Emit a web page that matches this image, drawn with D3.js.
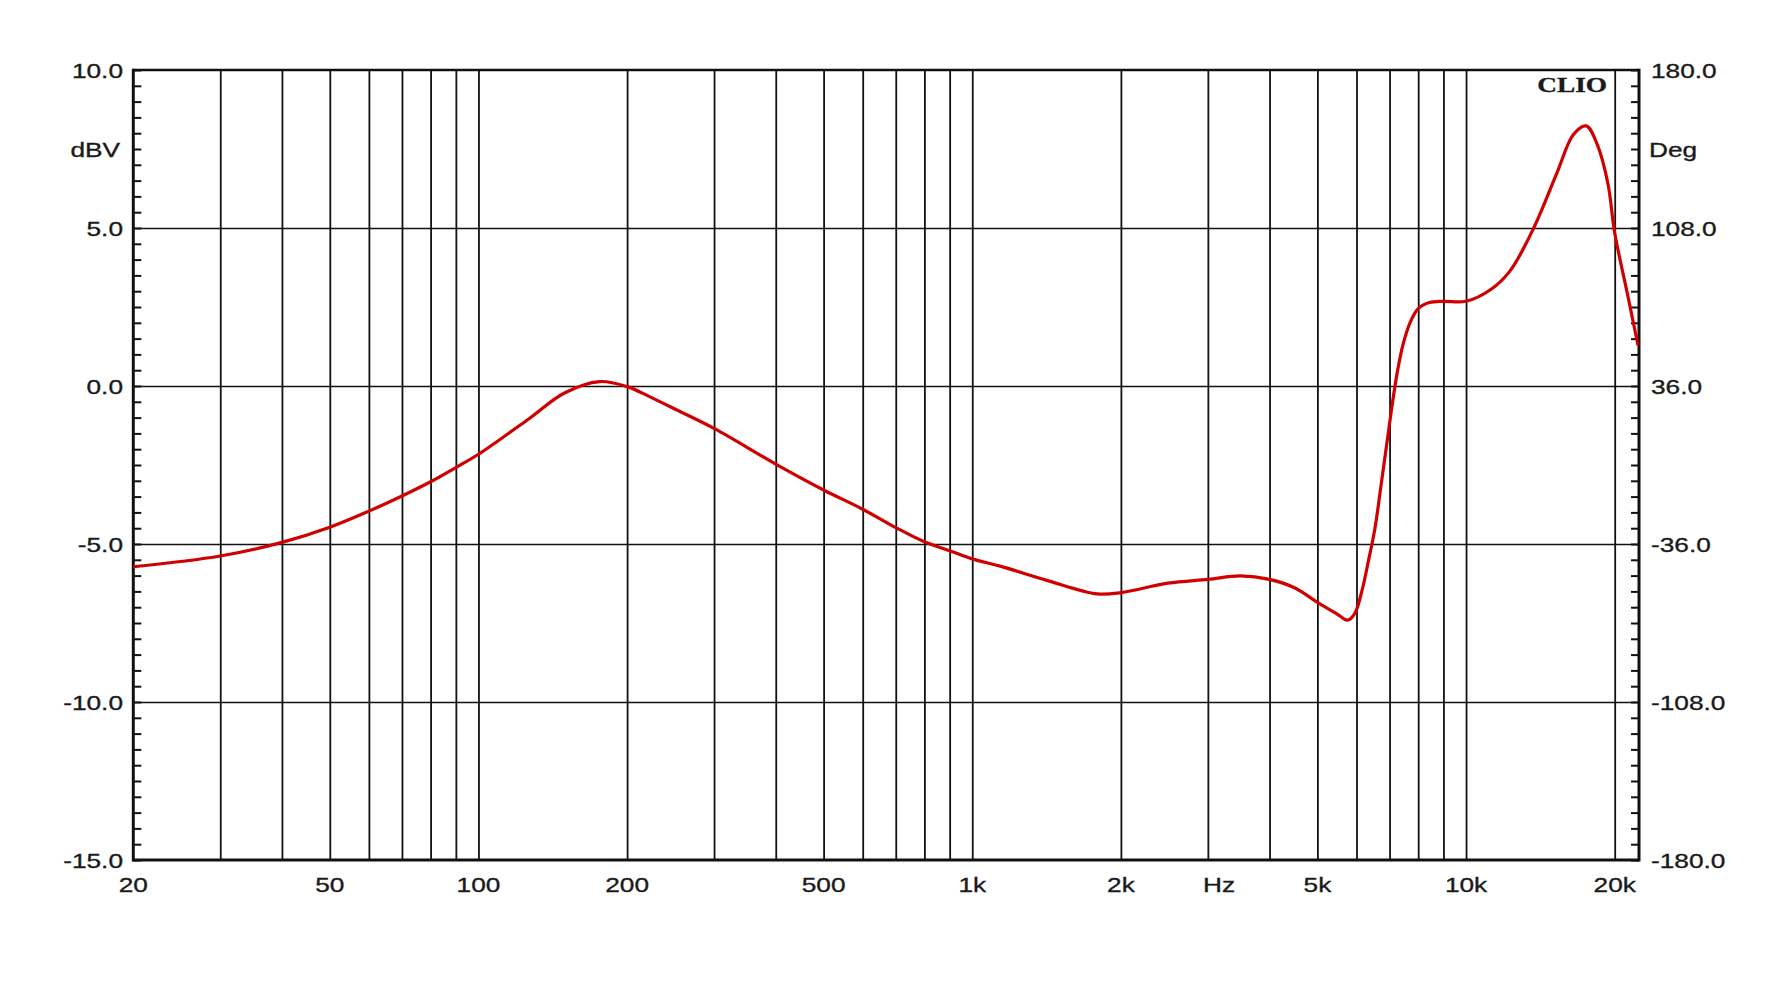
<!DOCTYPE html>
<html>
<head>
<meta charset="utf-8">
<script src="https://cdn.jsdelivr.net/npm/d3@7/dist/d3.min.js"></script>
<style>
  html, body { margin: 0; padding: 0; background: #fff; }
  svg { display: block; }
  text { font-family: "Liberation Sans", Arial, sans-serif; fill: #1a1a1a; stroke: #1a1a1a; stroke-width: 0.35px; }
</style>
</head>
<body>
<svg id="chart" width="1772" height="1001"></svg>
<script>
// ---- data ----
const freqHz = [20, 30, 40, 50, 60, 70, 80, 90, 100, 127, 149, 176, 200, 221, 244, 300, 400, 500, 600, 700, 800, 900, 1000, 1139, 1416, 1791, 2000, 2490, 3000, 3494, 4000, 4515, 5000, 5465, 5750, 5950, 6150, 6350, 6540, 6720, 6900, 7070, 7250, 7450, 7700, 8000, 8430, 9000, 10000, 11240, 12300, 13710, 15250, 16500, 17520, 18450, 19380, 20000, 21200, 22300];
const levelDbv = [-5.72, -5.38, -4.95, -4.47, -3.96, -3.48, -3.03, -2.58, -2.16, -1.02, -0.23, 0.14, -0.02, -0.32, -0.65, -1.34, -2.47, -3.29, -3.90, -4.48, -4.93, -5.21, -5.47, -5.70, -6.15, -6.58, -6.54, -6.24, -6.12, -6.01, -6.12, -6.40, -6.85, -7.20, -7.41, -7.20, -6.50, -5.50, -4.50, -3.20, -1.90, -0.70, 0.40, 1.30, 2.00, 2.45, 2.64, 2.68, 2.68, 3.06, 3.66, 5.00, 6.71, 7.96, 8.23, 7.63, 6.40, 4.85, 2.95, 1.28];

const gridFreqs = [30, 40, 50, 60, 70, 80, 90, 100, 200, 300, 400, 500, 600, 700, 800, 900, 1000, 2000, 3000, 4000, 5000, 6000, 7000, 8000, 9000, 10000, 20000];
const xTickValues = [20, 50, 100, 200, 500, 1000, 2000, 3162, 5000, 10000, 20000];
const xTickLabels = ["20", "50", "100", "200", "500", "1k", "2k", "Hz", "5k", "10k", "20k"];
const yTickValues = [-15, -10, -5, 0, 5, 10];
const yLeftLabels = ["-15.0", "-10.0", "-5.0", "0.0", "5.0", "10.0"];
const yRightLabels = ["-180.0", "-108.0", "-36.0", "36.0", "108.0", "180.0"];
const leftUnit = "dBV", rightUnit = "Deg", brand = "CLIO";

// ---- layout ----
const L = 133.3, R = 1639, T = 70, B = 860;
const svg = d3.select("#chart");
const x = d3.scaleLog().domain([20, 22400]).range([L, R]);
const y = d3.scaleLinear().domain([-15, 10]).range([B, T]);

// vertical grid
svg.append("g")
  .attr("transform", `translate(0,${B})`)
  .call(d3.axisBottom(x).tickValues(gridFreqs).tickSize(-(B - T)).tickFormat(""))
  .call(g => g.select(".domain").remove())
  .call(g => g.selectAll("line").attr("stroke", "#111").attr("stroke-width", 1.8));

// horizontal grid
svg.append("g")
  .attr("transform", `translate(${L},0)`)
  .call(d3.axisLeft(y).tickValues([-10, -5, 0, 5]).tickSize(-(R - L)).tickFormat(""))
  .call(g => g.select(".domain").remove())
  .call(g => g.selectAll("line").attr("stroke", "#111").attr("stroke-width", 1.7));

// minor ticks (inside) left & right every 0.5 dB
const minor = d3.range(-15, 10.001, 0.5);
svg.append("g")
  .attr("transform", `translate(${L},0)`)
  .call(d3.axisRight(y).tickValues(minor).tickSize(8).tickFormat(""))
  .call(g => g.select(".domain").remove())
  .call(g => g.selectAll("line").attr("stroke", "#111").attr("stroke-width", 2));
svg.append("g")
  .attr("transform", `translate(${R},0)`)
  .call(d3.axisLeft(y).tickValues(minor).tickSize(8).tickFormat(""))
  .call(g => g.select(".domain").remove())
  .call(g => g.selectAll("line").attr("stroke", "#111").attr("stroke-width", 2));

// frame
svg.append("line").attr("x1", L).attr("x2", R).attr("y1", T).attr("y2", T).attr("stroke", "#111").attr("stroke-width", 2.5);
svg.append("line").attr("x1", L).attr("x2", R).attr("y1", B).attr("y2", B).attr("stroke", "#111").attr("stroke-width", 3);
svg.append("line").attr("x1", L).attr("x2", L).attr("y1", T - 1.2).attr("y2", B + 1.5).attr("stroke", "#111").attr("stroke-width", 3);
svg.append("line").attr("x1", R).attr("x2", R).attr("y1", T - 1.2).attr("y2", B + 1.5).attr("stroke", "#111").attr("stroke-width", 3);

// curve
const pts = freqHz.map((f, i) => [f, levelDbv[i]]);
svg.append("path")
  .datum(pts)
  .attr("fill", "none")
  .attr("stroke", "#d00000")
  .attr("stroke-width", 3.2)
  .attr("stroke-linejoin", "round")
  .attr("d", d3.line().x(d => x(d[0])).y(d => y(d[1])).curve(d3.curveCatmullRom.alpha(0.5)));

// text helper (reference text is horizontally stretched)
function label(tx, ty, str, anchor, opts = {}) {
  const g = svg.append("g").attr("transform", `translate(${tx},${ty}) scale(${opts.sx || 1.25},1)`);
  const t = g.append("text").attr("text-anchor", anchor).attr("font-size", opts.size || 21).text(str);
  if (opts.family) t.style("font-family", opts.family);
  if (opts.weight) t.attr("font-weight", opts.weight);
  return t;
}

yTickValues.forEach((v, i) => {
  label(123, y(v) + 8, yLeftLabels[i], "end");
  label(1651, y(v) + 8, yRightLabels[i], "start");
});
label(120, y(7.5) + 8, leftUnit, "end");
label(1649, y(7.5) + 8, rightUnit, "start");
xTickValues.forEach((f, i) => label(x(f), 892, xTickLabels[i], "middle"));
label(1607, 92, brand, "end", { sx: 1.3, size: 21, family: "'Liberation Serif', 'Times New Roman', serif", weight: "bold" });
</script>
</body>
</html>
